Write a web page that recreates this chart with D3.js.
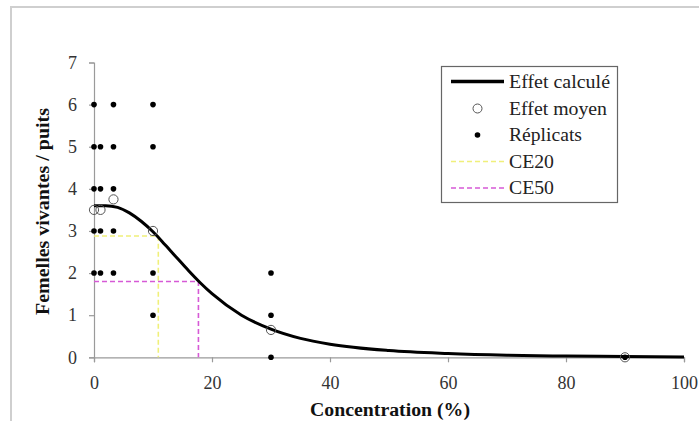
<!DOCTYPE html>
<html><head><meta charset="utf-8">
<script src="https://cdn.jsdelivr.net/npm/d3@7"></script>
<style>
body{margin:0;background:#fff}svg{display:block}
svg text{font-family:"Liberation Serif","Times New Roman",Tinos,"DejaVu Serif",serif !important;}
</style>
</head><body>
<svg id="c" width="699" height="421"></svg>
<script>
// Data
const xTicks = [0, 20, 40, 60, 80, 100];
const yTicks = [0, 1, 2, 3, 4, 5, 6, 7];
const replicateX = [0,0,0,0,0, 1.1,1.1,1.1,1.1, 3.3,3.3,3.3,3.3,3.3, 10,10,10,10, 30,30,30, 90];
const replicateY = [6,5,4,3,2, 5,4,3,2, 6,5,4,3,2, 6,5,2,1, 2,1,0, 0];
const meanX = [0, 1.1, 3.3, 10, 30, 90];
const meanY = [3.5, 3.5, 3.75, 3.0, 0.65, 0.0];
const curveX = [0, 2, 4, 6, 8, 10, 12, 14, 16, 18, 20, 25, 30, 35, 40, 50, 60, 70, 80, 90, 100];
const curveY = [3.6, 3.6, 3.56, 3.43, 3.23, 2.98, 2.68, 2.37, 2.06, 1.77, 1.51, 1.0, 0.67, 0.45, 0.31, 0.16, 0.09, 0.05, 0.03, 0.02, 0.01];
const ce20 = {x: 10.9, y: 2.88};
const ce50 = {x: 17.7, y: 1.80};
const legendLabels = ["Effet calculé", "Effet moyen", "Réplicats", "CE20", "CE50"];

const svg = d3.select("#c");

// frame
svg.append("path").attr("d","M11,421 V7 H699").attr("fill","none").attr("stroke","#cfcfcf").attr("stroke-width",2);

const x = d3.scaleLinear().domain([0,100]).range([94,684]);
const y = d3.scaleLinear().domain([0,7]).range([357.3,62.5]);

const axisColor = "#9a9a9a";
const gx = svg.append("g").attr("transform",`translate(0,${y(0)})`)
  .call(d3.axisBottom(x).tickValues(xTicks).tickSize(5).tickPadding(14).tickFormat(d3.format("d")));
const gy = svg.append("g").attr("transform",`translate(${x(0)},0)`)
  .call(d3.axisLeft(y).tickValues(yTicks).tickSize(5).tickPadding(12).tickFormat(d3.format("d")));
[gx,gy].forEach(g=>{
  g.attr("font-family",null);
  g.selectAll("path,line").attr("stroke",axisColor).attr("stroke-width",1.2);
  g.select(".domain").attr("stroke",axisColor);
  g.selectAll("text").attr("font-size",18).attr("fill","#333");
});

// CE lines
function ceLine(c, color){
  svg.append("path")
    .attr("d",`M${x(0)},${y(c.y)} H${x(c.x)} V${y(0)}`)
    .attr("fill","none").attr("stroke",color).attr("stroke-width",1.6).attr("stroke-dasharray","5,3");
}
ceLine(ce20, "#f0f07a");
ceLine(ce50, "#d65ad6");

// curve
const line = d3.line().x(d=>x(d[0])).y(d=>y(d[1])).curve(d3.curveMonotoneX);
svg.append("path").datum(curveX.map((v,i)=>[v,curveY[i]]))
  .attr("d",line).attr("fill","none").attr("stroke","#000").attr("stroke-width",3);

// replicates
svg.append("g").selectAll("circle").data(replicateX.map((v,i)=>[v,replicateY[i]])).join("circle")
  .attr("cx",d=>x(d[0])).attr("cy",d=>y(d[1])).attr("r",2.8).attr("fill","#000");

// means
svg.append("g").selectAll("circle").data(meanX.map((v,i)=>[v,meanY[i]])).join("circle")
  .attr("cx",d=>x(d[0])).attr("cy",d=>y(d[1])).attr("r",4.6).attr("fill","none").attr("stroke","#555").attr("stroke-width",1);

// axis titles
svg.append("text").attr("x",310).attr("y",416)
  .attr("font-weight","bold").attr("font-size",18).attr("fill","#111")
  .attr("textLength",160).attr("lengthAdjust","spacingAndGlyphs")
  .text("Concentration (%)");
svg.append("text").attr("transform","translate(49,315) rotate(-90)")
  .attr("font-weight","bold").attr("font-size",18).attr("fill","#111")
  .attr("textLength",207).attr("lengthAdjust","spacingAndGlyphs")
  .text("Femelles vivantes / puits");

// legend
const lg = svg.append("g");
lg.append("rect").attr("x",441.5).attr("y",66.5).attr("width",176).attr("height",136)
  .attr("fill","#fff").attr("stroke","#666").attr("stroke-width",1.2);
const rowY = [81.5, 108.5, 135, 161.5, 188];
const labelW = [101, 98, 73, 45, 45];
legendLabels.forEach((t,i)=>{
  const cy = rowY[i];
  if(i===0) lg.append("line").attr("x1",451).attr("x2",504).attr("y1",cy).attr("y2",cy).attr("stroke","#000").attr("stroke-width",3.5);
  if(i===1) lg.append("circle").attr("cx",477.5).attr("cy",cy).attr("r",4.5).attr("fill","none").attr("stroke","#555");
  if(i===2) lg.append("circle").attr("cx",477.5).attr("cy",cy).attr("r",2.8).attr("fill","#000");
  if(i===3) lg.append("line").attr("x1",451).attr("x2",504).attr("y1",cy).attr("y2",cy).attr("stroke","#f0f07a").attr("stroke-width",1.6).attr("stroke-dasharray","5,3");
  if(i===4) lg.append("line").attr("x1",451).attr("x2",504).attr("y1",cy).attr("y2",cy).attr("stroke","#d65ad6").attr("stroke-width",1.6).attr("stroke-dasharray","5,3");
  lg.append("text").attr("x",509).attr("y",cy).attr("dy","0.35em")
    .attr("font-size",18).attr("fill","#222")
    .attr("textLength",labelW[i]).attr("lengthAdjust","spacingAndGlyphs").text(t);
});
</script>
</body></html>
